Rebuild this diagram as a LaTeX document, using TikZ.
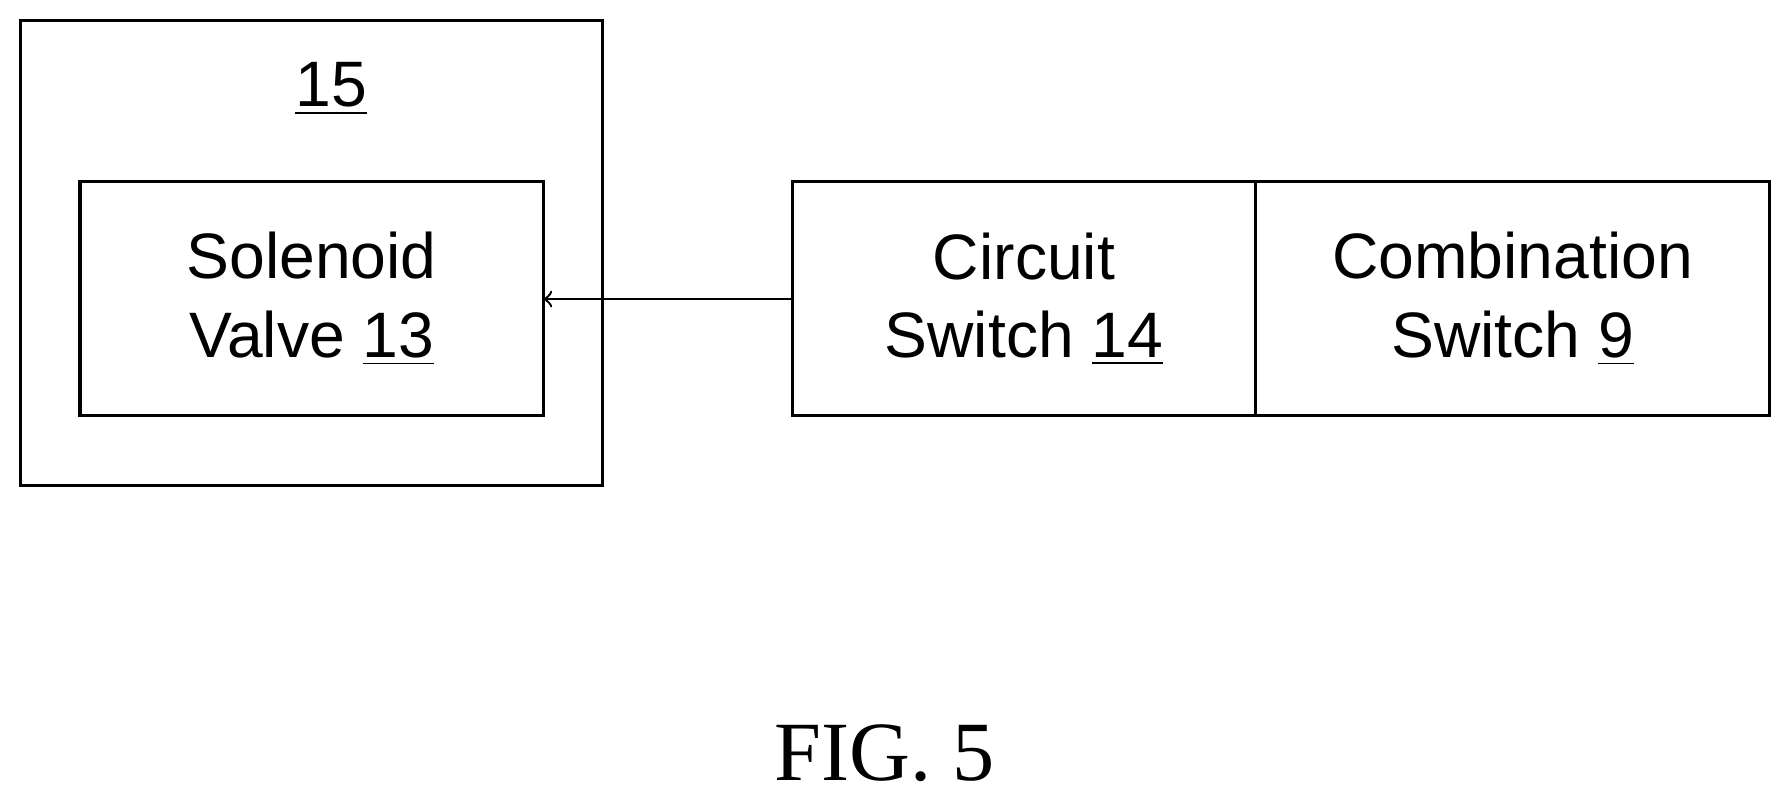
\documentclass[tikz,border=0pt]{standalone}
\usepackage{fontspec}
\setmainfont{Liberation Sans}
\newfontfamily\serifff{Liberation Serif}
\begin{document}
\begin{tikzpicture}[x=0.01cm,y=-0.01cm,
  box/.style={draw,line width=0.8pt,inner sep=0pt},
  lbl/.style={font=\fontsize{16}{19.5}\selectfont,align=center}]
\useasboundingbox (0,0) rectangle (1568,703.4);
\draw[box] (18,18) rectangle (528,425);
\node[lbl] (n15) at (290,78) {\underline{15}};
\draw[box] (70,159) rectangle (476,364);
\node[lbl] (sv) at (273,262) {Solenoid\\Valve \underline{13}};
\coordinate (svr) at (476,262);
\draw[box] (694,159) rectangle (1100,364);
\node[lbl] (cs) at (897,262) {Circuit\\Switch \underline{14}};
\coordinate (csl) at (694,262);
\draw[box] (1100,159) rectangle (1550,364);
\node[lbl] (cb) at (1325,262) {Combination\\Switch \underline{9}};
\draw[->,line width=0.6pt] (csl) -- (svr);
\node[font=\serifff\fontsize{21}{25}\selectfont] (fig) at (775,660) {FIG. 5};
\end{tikzpicture}
\end{document}
